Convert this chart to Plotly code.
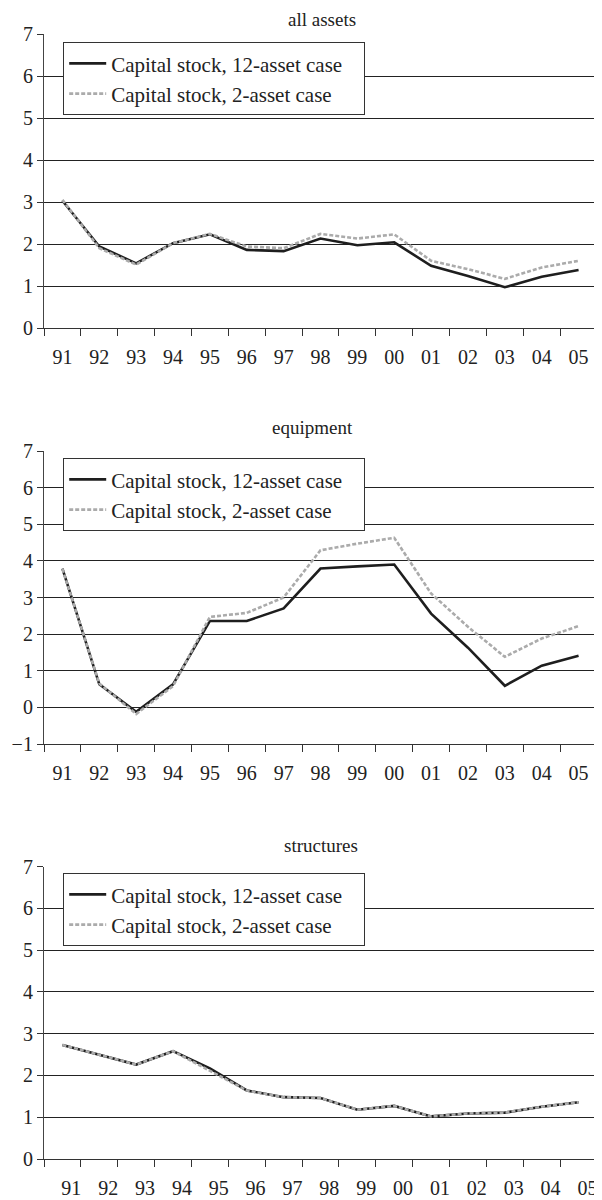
import plotly.graph_objects as go

years = ["91", "92", "93", "94", "95", "96", "97", "98", "99", "00", "01", "02", "03", "04", "05"]

all_12 = [3.03, 1.94, 1.54, 2.02, 2.23, 1.86, 1.83, 2.13, 1.97, 2.04, 1.48, 1.24, 0.97, 1.22, 1.38]
all_2 = [3.05, 1.90, 1.51, 2.02, 2.24, 1.94, 1.90, 2.24, 2.13, 2.23, 1.60, 1.40, 1.17, 1.44, 1.60]

eq_12 = [3.79, 0.63, -0.12, 0.63, 2.36, 2.36, 2.70, 3.79, 3.85, 3.90, 2.56, 1.63, 0.59, 1.14, 1.41]
eq_2 = [3.78, 0.65, -0.18, 0.58, 2.47, 2.58, 3.00, 4.29, 4.47, 4.63, 3.11, 2.20, 1.38, 1.88, 2.22]

st_12 = [2.73, 2.49, 2.26, 2.58, 2.17, 1.64, 1.48, 1.46, 1.18, 1.27, 1.02, 1.09, 1.11, 1.25, 1.36]
st_2 = [2.73, 2.49, 2.26, 2.58, 2.10, 1.64, 1.48, 1.46, 1.18, 1.27, 1.02, 1.09, 1.11, 1.25, 1.36]

titles = ["all assets", "equipment", "structures"]
name_12 = "Capital stock, 12-asset case"
name_2 = "Capital stock, 2-asset case"

# page has an 8px body margin: figure pixel = page pixel - 8
OFF = 8
W, H = 602 - OFF, 1200 - OFF
L, R = 44 - OFF, 597 - OFF
FONT = "Liberation Serif"
PAD = "\u00a0\u00a0\u00a0"

def py(page_px):
    return 1 - (page_px - OFF) / H

def pxx(page_px):
    return (page_px - OFF - L) / (R - L)

panels = [
    dict(s12=all_12, s2=all_2, yr=[0, 7], top=34, bot=328, leg_top=42, title_y=8, title_anchor="top",
         title_x=322, lab_shift=0.0),
    dict(s12=eq_12, s2=eq_2, yr=[-1, 7], top=451, bot=744, leg_top=458, title_y=427, title_anchor="middle",
         title_x=312, lab_shift=0.0),
    dict(s12=st_12, s2=st_2, yr=[0, 7], top=866.5, bot=1159, leg_top=873, title_y=845, title_anchor="middle",
         title_x=321, lab_shift=0.24),
]

xidx = list(range(len(years)))
fig = go.Figure()
annotations = []
layout = dict(width=W, height=H, margin=dict(l=L, r=W - R, t=0, b=0, autoexpand=False),
              paper_bgcolor="white", plot_bgcolor="white",
              font=dict(family=FONT, size=20, color="#222"), showlegend=True)

for i, p in enumerate(panels):
    n = i + 1
    xa = "x" if n == 1 else f"x{n}"
    ya = "y" if n == 1 else f"y{n}"
    lg = "legend" if n == 1 else f"legend{n}"
    fig.add_trace(go.Scatter(x=xidx, y=p["s12"], mode="lines", name=name_12 + PAD,
                             line=dict(color="#1e1e1e", width=2.6), xaxis=xa, yaxis=ya, legend=lg))
    fig.add_trace(go.Scatter(x=xidx, y=p["s2"], mode="lines", name=name_2,
                             line=dict(color="#ababab", width=2.6, dash="4px,2px"), xaxis=xa, yaxis=ya, legend=lg))
    xk = "xaxis" if n == 1 else f"xaxis{n}"
    yk = "yaxis" if n == 1 else f"yaxis{n}"
    layout[xk] = dict(domain=[0, 1], anchor=ya, range=[-0.5, 14.5], type="linear", automargin=False,
                      tickmode="array", tickvals=[v + p["lab_shift"] for v in xidx], ticktext=years,
                      ticks="", ticklabelstandoff=11, showgrid=False, zeroline=False,
                      showline=True, linecolor="#333", linewidth=1.2,
                      tickfont=dict(family=FONT, size=20, color="#222"),
                      minor=dict(tickmode="array", tickvals=[v - 0.5 for v in xidx] + [14.5],
                                 ticks="outside", ticklen=7, tickcolor="#333", tickwidth=1.2, showgrid=False),
                      fixedrange=True)
    layout[yk] = dict(domain=[py(p["bot"]), py(p["top"])], anchor=xa, range=p["yr"], automargin=False,
                      tickmode="linear", tick0=0, dtick=1, ticks="outside", ticklen=6,
                      tickcolor="#333", tickwidth=1.2, ticklabelstandoff=0,
                      showgrid=True, gridcolor="#222", gridwidth=1.2, zeroline=False,
                      showline=True, linecolor="#444", linewidth=1.2,
                      tickfont=dict(family=FONT, size=20, color="#222"), fixedrange=True)
    layout[lg] = dict(x=pxx(63), y=py(p["leg_top"]), xanchor="left", yanchor="top",
                      bgcolor="white", bordercolor="#333", borderwidth=1.2,
                      font=dict(family=FONT, size=21, color="#222"), itemwidth=37,
                      traceorder="normal")
    annotations.append(dict(text=titles[i], x=pxx(p["title_x"]), y=py(p["title_y"]),
                            xref="paper", yref="paper", xanchor="center", yanchor=p["title_anchor"],
                            borderpad=0, showarrow=False, font=dict(family=FONT, size=19, color="#222")))

layout["annotations"] = annotations
fig.update_layout(**layout)
fig.write_html("out.html")
